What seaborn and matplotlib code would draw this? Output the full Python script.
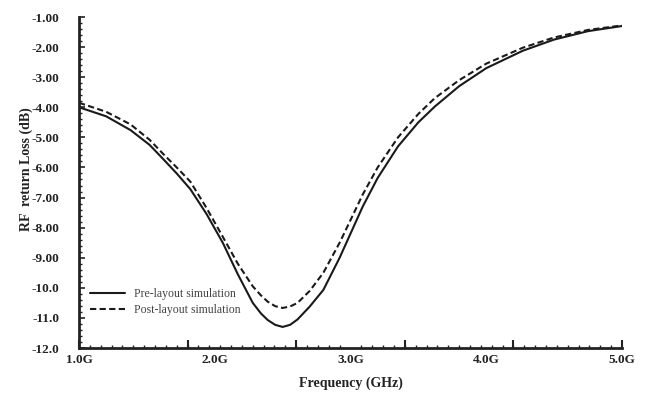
import numpy as np
import pandas as pd
import matplotlib
matplotlib.use("Agg")
import matplotlib.pyplot as plt
import seaborn as sns

freq = [1.0, 1.2, 1.38, 1.52, 1.62, 1.72, 1.82, 1.94, 2.06, 2.17, 2.28, 2.34, 2.39, 2.445, 2.50,
        2.555, 2.61, 2.70, 2.80, 2.92, 3.00, 3.09, 3.20, 3.35, 3.50, 3.62, 3.80, 4.00, 4.27,
        4.50, 4.75, 5.0]
pre_layout = [-4.00, -4.30, -4.76, -5.25, -5.72, -6.20, -6.72, -7.55, -8.51, -9.55, -10.50,
              -10.85, -11.07, -11.23, -11.30, -11.23, -11.05, -10.62, -10.07, -9.00, -8.20,
              -7.30, -6.35, -5.30, -4.50, -3.98, -3.30, -2.70, -2.12, -1.75, -1.47, -1.30]
post_layout = [-3.85, -4.15, -4.57, -5.08, -5.55, -6.00, -6.47, -7.35, -8.31, -9.20, -9.95,
               -10.25, -10.46, -10.61, -10.67, -10.62, -10.50, -10.10, -9.50, -8.50, -7.75,
               -6.90, -6.00, -5.00, -4.22, -3.70, -3.10, -2.55, -2.02, -1.68, -1.43, -1.28]
series_names = ["Pre-layout simulation", "Post-layout simulation"]
x_tick_vals = [1.0, 2.0, 3.0, 4.0, 5.0]
x_tick_labels = ["1.0G", "2.0G", "3.0G", "4.0G", "5.0G"]
y_tick_vals = [-1, -2, -3, -4, -5, -6, -7, -8, -9, -10, -11, -12]
y_tick_labels = ["-1.00", "-2.00", "-3.00", "-4.00", "-5.00", "-6.00", "-7.00", "-8.00",
                 "-9.00", "-10.0", "-11.0", "-12.0"]

df = pd.DataFrame({
    "freq": freq * 2,
    "loss": pre_layout + post_layout,
    "series": [series_names[0]] * len(freq) + [series_names[1]] * len(freq),
})

sns.set_theme(style="white")
plt.rcParams["font.family"] = ["Liberation Serif", "DejaVu Serif"]

fig = plt.figure(figsize=(6.48, 3.95), dpi=100)
ax = fig.add_axes([79/648, 1-348/395, (622-79)/648, (348-17)/395])

sns.lineplot(data=df, x="freq", y="loss", hue="series", style="series",
             palette=["#1a1a1a", "#1a1a1a"], dashes=[(None, None), (3, 1.6)],
             linewidth=1.5, ax=ax, legend=True, sort=False)

ax.set_xlim(1.0, 5.0)
ax.set_ylim(-12.0, -1.0)

ax.set_xticks(x_tick_vals)
ax.set_xticklabels(x_tick_labels, fontweight="bold", fontsize=9.5)
ax.set_yticks(y_tick_vals)
ax.set_yticklabels(y_tick_labels, fontweight="bold", fontsize=9.5)
ax.tick_params(axis="x", which="major", length=0, pad=4, colors="#222222")
ax.tick_params(axis="y", which="major", direction="in", length=4, width=1.2, pad=14, colors="#222222")
ax.set_xticks(np.arange(1.0, 5.0001, 0.08), minor=True)
ax.set_yticks(np.arange(-12.0, -0.999, 0.2), minor=True)
ax.tick_params(which="minor", direction="in", length=2.5, width=1.0, color="#222222")
ax.tick_params(axis="both", which="both", bottom=True, left=True, top=False, right=False)

sec = ax.secondary_xaxis("bottom")
sec.set_xticks([1.0, 1.8, 2.6, 3.4, 4.2, 5.0])
sec.set_xticklabels([])
sec.tick_params(direction="in", length=6, width=1.5, color="#222222")
sec.spines["bottom"].set_visible(False)

for s in ["top", "right"]:
    ax.spines[s].set_visible(False)
for s in ["left", "bottom"]:
    ax.spines[s].set_linewidth(2.0)
    ax.spines[s].set_color("#222222")

ax.set_xlabel("Frequency (GHz)", fontweight="bold", fontsize=10, labelpad=8, color="#222222")
ax.set_ylabel("RF  return Loss (dB)", fontweight="bold", fontsize=10, labelpad=6, color="#222222")
ax.yaxis.set_label_coords(-0.085, 0.54)

leg = ax.legend(loc="lower left", bbox_to_anchor=(0.0, 0.065), frameon=False,
                fontsize=8.5, handlelength=3.0, labelspacing=0.3, handletextpad=0.8)
for t in leg.get_texts():
    t.set_color("#444444")

fig.savefig("out.png", dpi=100, facecolor="white")
